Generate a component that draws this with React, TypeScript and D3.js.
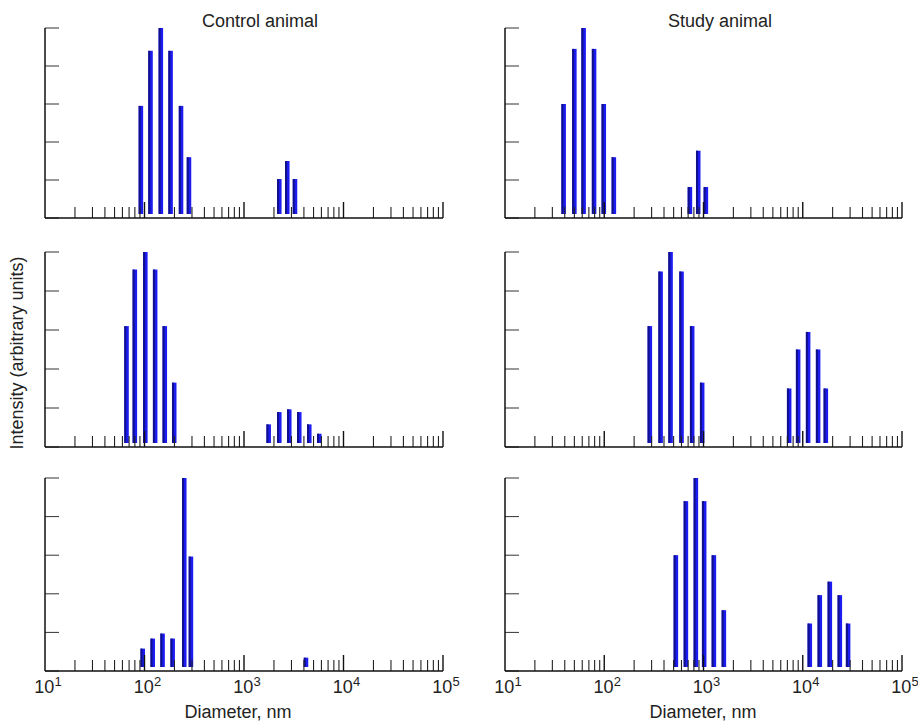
import * as d3 from "d3";

// bin diameters (nm) and intensities (fraction of panel max)
const controlDiam1 = [92, 115, 146, 183, 233, 280, 2264, 2723, 3255];
const controlInt1 = [0.59, 0.88, 1.0, 0.88, 0.59, 0.32, 0.205, 0.3, 0.205];
const studyDiam1 = [39, 50, 62, 79, 99, 125, 730, 885, 1057];
const studyInt1 = [0.6, 0.89, 1.0, 0.89, 0.6, 0.32, 0.163, 0.354, 0.163];

const controlDiam2 = [66, 80, 102, 128, 160, 199, 1771, 2264, 2852, 3594, 4530, 5710];
const controlInt2 = [0.62, 0.91, 1.0, 0.91, 0.62, 0.33, 0.116, 0.179, 0.193, 0.179, 0.116, 0.068];
const studyDiam2 = [288, 370, 466, 601, 769, 970, 7300, 8990, 11330, 14290, 17090];
const studyInt2 = [0.62, 0.9, 1.0, 0.9, 0.62, 0.33, 0.3, 0.5, 0.59, 0.5, 0.3];

const controlDiam3 = [96, 121, 152, 192, 251, 293, 4200];
const controlInt3 = [0.116, 0.168, 0.194, 0.168, 1.0, 0.593, 0.069];
const studyDiam3 = [527, 665, 838, 1016, 1273, 1605, 11780, 14860, 18750, 23640, 28650];
const studyInt3 = [0.6, 0.88, 1.0, 0.88, 0.6, 0.315, 0.246, 0.393, 0.463, 0.393, 0.246];

const decadeExps = [1, 2, 3, 4, 5];
const columnTitles = ["Control animal", "Study animal"];
const yTitle = "Intensity (arbitrary units)";
const xTitle = "Diameter, nm";

const FONT = "'Liberation Sans', Arial, sans-serif";
const BAR_W = 4.5;

const cols = [
  { x0: 45, x1: 443, titleX: 260, xTitleX: 238 },
  { x0: 505, x1: 902, titleX: 720, xTitleX: 703 },
];
const rows = [
  { top: 28, base: 218 },
  { top: 252, base: 447 },
  { top: 478, base: 671 },
];

interface PanelProps {
  diam: number[];
  inten: number[];
  x0: number;
  x1: number;
  top: number;
  base: number;
  labels: boolean;
}

function Panel({ diam, inten, x0, x1, top, base, labels }: PanelProps) {
  const x = d3.scaleLog().domain([10, 1e5]).range([x0, x1]);
  const y = d3.scaleLinear().domain([0, 1]).range([base, top]);

  const minor: number[] = [];
  decadeExps.slice(0, 4).forEach((e) => {
    for (let k = 2; k <= 9; k++) minor.push(k * Math.pow(10, e));
  });
  const major = decadeExps.slice(1).map((e) => Math.pow(10, e));

  return (
    <g>
      {/* bars float a few px above the baseline, like the original */}
      {diam.map((d, i) => {
        const cx = x(d);
        const yt = y(inten[i]);
        const h = Math.max(0, base - 4 - yt);
        return (
          <g key={i}>
            <rect x={cx - BAR_W / 2} y={yt} width={BAR_W} height={h} fill="#1c1cf2" />
            <rect x={cx - BAR_W / 2} y={yt} width={2} height={h} fill="#10108a" />
          </g>
        );
      })}
      {minor.map((v) => (
        <line key={"m" + v} x1={x(v)} x2={x(v)} y1={base} y2={base - 11} stroke="#222" strokeWidth={1.1} />
      ))}
      {major.map((v) => (
        <line key={"M" + v} x1={x(v)} x2={x(v)} y1={base} y2={base - 16} stroke="#111" strokeWidth={1.4} />
      ))}
      {y.ticks(5).map((t) => (
        <line key={"y" + t} x1={x0} x2={x0 + 14} y1={y(t)} y2={y(t)} stroke="#333" strokeWidth={1} />
      ))}
      <line x1={x0} x2={x0} y1={top} y2={base} stroke="#111" strokeWidth={1.5} />
      <line x1={x0} x2={x1} y1={base} y2={base} stroke="#111" strokeWidth={1.5} />
      {labels &&
        decadeExps.map((e) => (
          <text key={"l" + e} x={x(Math.pow(10, e)) + 3} y={base + 22} textAnchor="middle" fontFamily={FONT} fontSize={18} fill="#222">
            10
            <tspan fontSize={13} dy={-7}>{e}</tspan>
          </text>
        ))}
    </g>
  );
}

export default function App() {
  const data = [
    [
      [controlDiam1, controlInt1],
      [studyDiam1, studyInt1],
    ],
    [
      [controlDiam2, controlInt2],
      [studyDiam2, studyInt2],
    ],
    [
      [controlDiam3, controlInt3],
      [studyDiam3, studyInt3],
    ],
  ];

  return (
    <svg width={918} height={721} style={{ position: "absolute", left: 0, top: 0, background: "#fff" }}>
      <rect width={918} height={721} fill="#fff" />
      {rows.map((r, ri) =>
        cols.map((c, ci) => (
          <Panel
            key={ri + "-" + ci}
            diam={data[ri][ci][0]}
            inten={data[ri][ci][1]}
            x0={c.x0}
            x1={c.x1}
            top={r.top}
            base={r.base}
            labels={ri === rows.length - 1}
          />
        ))
      )}
      {cols.map((c, ci) => (
        <text key={"t" + ci} x={c.titleX} y={27} textAnchor="middle" fontFamily={FONT} fontSize={18} fill="#222">
          {columnTitles[ci]}
        </text>
      ))}
      {cols.map((c, ci) => (
        <text key={"xt" + ci} x={c.xTitleX} y={718} textAnchor="middle" fontFamily={FONT} fontSize={18} fill="#222">
          {xTitle}
        </text>
      ))}
      <text
        transform="translate(17,353) rotate(-90)"
        textAnchor="middle"
        dominantBaseline="central"
        fontFamily={FONT}
        fontSize={18}
        fill="#222"
      >
        {yTitle}
      </text>
    </svg>
  );
}
